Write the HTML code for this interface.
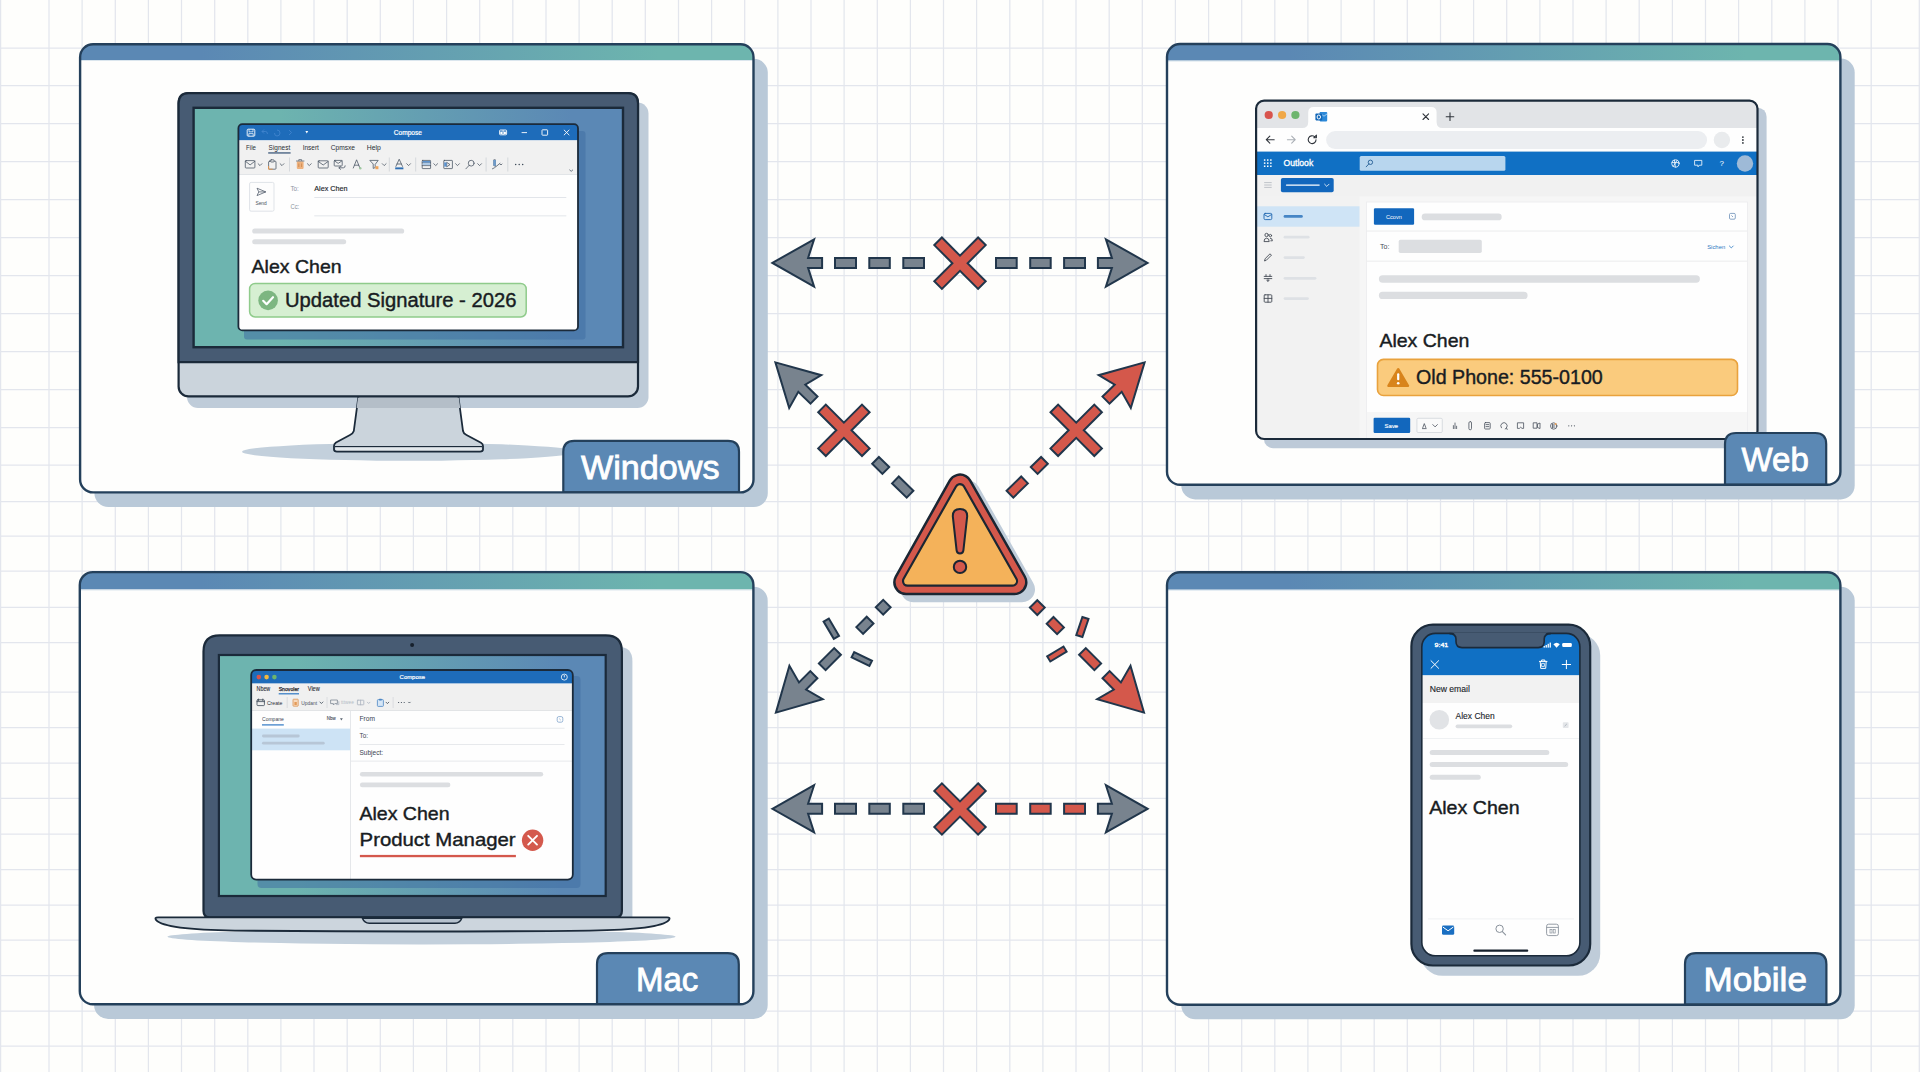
<!DOCTYPE html>
<html lang="en"><head><meta charset="utf-8"><title>Signature sync diagram</title>
<style>
html,body{margin:0;padding:0;background:#fefefc;}
body{width:1920px;height:1072px;overflow:hidden;font-family:"Liberation Sans",sans-serif;}
svg{display:block;}
svg text{font-family:"Liberation Sans",sans-serif;}
</style></head><body>
<svg width="1920" height="1072" viewBox="0 0 1920 1072">
<!-- 10_base.svgfrag -->
<defs>
<linearGradient id="barg" x1="0" y1="0" x2="1" y2="0">
<stop offset="0" stop-color="#5b88b4"/><stop offset="0.18" stop-color="#5b88b4"/>
<stop offset="0.86" stop-color="#6db5ae"/><stop offset="1" stop-color="#6db5ae"/>
</linearGradient>
<linearGradient id="scrg" x1="0" y1="0" x2="1" y2="0">
<stop offset="0" stop-color="#6db4af"/><stop offset="0.2" stop-color="#6db4af"/>
<stop offset="0.88" stop-color="#5b88b5"/><stop offset="1" stop-color="#5b88b5"/>
</linearGradient>
</defs>
<rect x="0" y="0" width="1920" height="1072" fill="#fefefc"/>
<path d="M0.6 0V1072M49.0 0V1072M82.1 0V1072M115.3 0V1072M148.4 0V1072M181.5 0V1072M214.7 0V1072M247.8 0V1072M280.9 0V1072M314.0 0V1072M347.2 0V1072M380.3 0V1072M413.4 0V1072M446.6 0V1072M479.7 0V1072M512.8 0V1072M546.0 0V1072M579.1 0V1072M612.2 0V1072M645.3 0V1072M678.5 0V1072M711.6 0V1072M744.7 0V1072M777.9 0V1072M811.0 0V1072M844.1 0V1072M877.3 0V1072M910.4 0V1072M943.5 0V1072M976.6 0V1072M1009.8 0V1072M1042.9 0V1072M1076.0 0V1072M1109.2 0V1072M1142.3 0V1072M1175.4 0V1072M1208.6 0V1072M1241.7 0V1072M1274.8 0V1072M1307.9 0V1072M1341.1 0V1072M1374.2 0V1072M1407.3 0V1072M1440.5 0V1072M1473.6 0V1072M1506.7 0V1072M1539.9 0V1072M1573.0 0V1072M1606.1 0V1072M1639.2 0V1072M1672.4 0V1072M1705.5 0V1072M1738.6 0V1072M1771.8 0V1072M1804.9 0V1072M1838.0 0V1072M1871.2 0V1072M1919.3 0V1072M0 48.0H1920M0 85.7H1920M0 123.7H1920M0 161.6H1920M0 199.7H1920M0 237.6H1920M0 275.6H1920M0 313.7H1920M0 351.5H1920M0 389.7H1920M0 427.5H1920M0 465.0H1920M0 501.5H1920M0 536.0H1920M0 571.0H1920M0 607.3H1920M0 642.5H1920M0 692.0H1920M0 727.5H1920M0 763.0H1920M0 798.3H1920M0 834.0H1920M0 869.5H1920M0 905.0H1920M0 940.0H1920M0 975.5H1920M0 1011.0H1920M0 1046.0H1920" fill="none" stroke="#e3e6ed" stroke-width="1.25"/>
<rect x="94.4" y="58.8" width="673.4" height="448.2" rx="14" fill="#b9c9d8"/>
<rect x="80.1" y="44.2" width="673.4" height="448.2" rx="13" fill="#fefefd"/>
<clipPath id="cp124"><rect x="80.1" y="44.2" width="673.4" height="448.2" rx="13"/></clipPath>
<g clip-path="url(#cp124)"><rect x="80.1" y="44.2" width="673.4" height="15.8" fill="url(#barg)"/>
<rect x="80.1" y="60.0" width="673.4" height="1" fill="#dbe6ee"/>
</g>
<rect x="1181.3" y="58.6" width="673.4" height="440.8" rx="14" fill="#b9c9d8"/>
<rect x="1167.0" y="44.0" width="673.4" height="440.8" rx="13" fill="#fefefd"/>
<clipPath id="cp1211"><rect x="1167.0" y="44.0" width="673.4" height="440.8" rx="13"/></clipPath>
<g clip-path="url(#cp1211)"><rect x="1167.0" y="44.0" width="673.4" height="16.6" fill="url(#barg)"/>
<rect x="1167.0" y="60.6" width="673.4" height="1" fill="#dbe6ee"/>
</g>
<rect x="94.1" y="586.7" width="673.6" height="432.2" rx="14" fill="#b9c9d8"/>
<rect x="79.8" y="572.1" width="673.6" height="432.2" rx="13" fill="#fefefd"/>
<clipPath id="cp651"><rect x="79.8" y="572.1" width="673.6" height="432.2" rx="13"/></clipPath>
<g clip-path="url(#cp651)"><rect x="79.8" y="572.1" width="673.6" height="17.4" fill="url(#barg)"/>
<rect x="79.8" y="589.5" width="673.6" height="1" fill="#dbe6ee"/>
</g>
<rect x="1181.3" y="586.8" width="673.4" height="432.5" rx="14" fill="#b9c9d8"/>
<rect x="1167.0" y="572.2" width="673.4" height="432.5" rx="13" fill="#fefefd"/>
<clipPath id="cp1739"><rect x="1167.0" y="572.2" width="673.4" height="432.5" rx="13"/></clipPath>
<g clip-path="url(#cp1739)"><rect x="1167.0" y="572.2" width="673.4" height="17.5" fill="url(#barg)"/>
<rect x="1167.0" y="589.7" width="673.4" height="1" fill="#dbe6ee"/>
</g>
<!-- 20_win.svgfrag -->
<ellipse cx="409" cy="451.8" rx="167" ry="9" fill="#c3d0dc"/>
<rect x="187" y="102.5" width="461.5" height="305.5" rx="11" fill="#bfccd9"/>
<path d="M358.5 396L353.8 431Q353 433.5 350 435L336 442.5Q334 444 334 446V449.5Q334 451.5 337 451.5H480Q483 451.5 483 449.5V446Q483 444 481 442.8L466.5 435Q463.5 433.5 463 431L458.3 396Z" fill="#cbd4dc" stroke="#1b2a3a" stroke-width="1.8" stroke-linejoin="round"/>
<path d="M358 397.5H458.8L460.2 408H356.6Z" fill="#b4bec8"/>
<path d="M335 446.6H482" stroke="#1b2a3a" stroke-width="1.2" fill="none"/>
<path d="M335.5 447.4H481.5V449.6Q481.5 450.6 480 450.6H337Q335.5 450.6 335.5 449.6Z" fill="#e3e8ec"/>
<rect x="178.6" y="93.2" width="459.4" height="303.2" rx="10" fill="#cbd4dc" stroke="#1b2a3a" stroke-width="2.2"/>
<path d="M178.6 362.2V103.2Q178.6 93.2 188.6 93.2H628Q638 93.2 638 103.2V362.2Z" fill="#475b73" stroke="#1b2a3a" stroke-width="2.2"/>
<rect x="193.6" y="107.8" width="429.4" height="239.4" fill="url(#scrg)" stroke="#1b2a3a" stroke-width="2.4"/>
<rect x="244" y="131" width="341.5" height="208.5" rx="3" fill="#3f6fa3" opacity="0.55"/>
<clipPath id="wcl"><rect x="238.4" y="124.2" width="339.6" height="206.2" rx="4"/></clipPath>
<g clip-path="url(#wcl)">
<rect x="238" y="124" width="341" height="207" fill="#fefefe"/>
<rect x="238" y="124" width="341" height="16.4" fill="#1e6cba"/>
<rect x="238" y="140.4" width="341" height="33.8" fill="#f1f1f1"/>
<rect x="238" y="174" width="341" height="0.9" fill="#dfe2e6"/>
</g>
<g stroke="#fff" fill="none" stroke-width="0.9"><rect x="247.2" y="129.2" width="7.6" height="7" rx="1"/><path d="M249 129.2v2.6h4v-2.6M248.8 136.2v-2.6h4.4v2.6" stroke-width="0.7"/></g>
<g stroke="#4487cf" fill="none" stroke-width="0.8"><path d="M262 131.5l2-2M262 131.5l2 2M262 131.5h3.5q2 0 2 2.5"/><path d="M277 130q3 0 3 3t-3 3q-2.5 0-2.5-3"/><path d="M289 130l2.500 2.500l-2.500 2.500"/></g>
<path d="M305.4 131l1.400 2.400l1.400-2.400z" fill="#fff"/>
<text x="393.8" y="134.6" font-size="6.6" fill="#fff" textLength="28.2" lengthAdjust="spacingAndGlyphs" stroke="#fff" stroke-width="0.2">Compose</text>
<g stroke="#fff" fill="none" stroke-width="0.9"><rect x="499.6" y="130" width="7" height="4.8" rx="0.8"/><path d="M503.100 130v4.800" /></g>
<rect x="500.300" y="131.600" width="2.100" height="2.400" fill="#fff"/><rect x="503.800" y="131.600" width="2.100" height="2.400" fill="#fff"/>
<g stroke="#fff" fill="none" stroke-width="0.9"><path d="M521.6 132.6h5.400"/><rect x="542" y="129.800" width="5.600" height="5.400" rx="0.600"/><path d="M563.900 129.800l5.400 5.400M569.300 129.800l-5.400 5.400"/></g>
<text x="246.1" y="150.1" font-size="6.8" fill="#2b2f36" textLength="9.8" lengthAdjust="spacingAndGlyphs" >File</text>
<text x="268.6" y="150.1" font-size="6.8" fill="#2b2f36" textLength="21.6" lengthAdjust="spacingAndGlyphs" >Signest</text>
<rect x="268.2" y="152.4" width="22.400" height="1.1" fill="#1e3f66"/>
<text x="302.7" y="150.1" font-size="6.8" fill="#2b2f36" textLength="16.2" lengthAdjust="spacingAndGlyphs" >Insert</text>
<text x="330.7" y="150.1" font-size="6.8" fill="#2b2f36" textLength="24.3" lengthAdjust="spacingAndGlyphs" >Cpmsxe</text>
<text x="366.7" y="150.1" font-size="6.8" fill="#2b2f36" textLength="14.1" lengthAdjust="spacingAndGlyphs" >Help</text>
<g fill="none" stroke="#4a5563" stroke-width="0.78" stroke-linejoin="round" stroke-linecap="round"><rect x="245.3" y="160.6" width="9.6" height="7.4" rx="0.8"/><path d="M245.3 161.2l4.8 3.7l4.8 -3.7"/></g>
<path d="M258.1 163.7l1.9 1.9l1.9 -1.9" fill="none" stroke="#4a5563" stroke-width="0.78" stroke-linejoin="round" stroke-linecap="round"/>
<g fill="none" stroke="#4a5563" stroke-width="0.78" stroke-linejoin="round" stroke-linecap="round"><rect x="268.600" y="161.200" width="7.400" height="8" rx="0.800"/><rect x="270.600" y="159.800" width="3.400" height="2.200" rx="0.600" fill="#f1f1f1"/></g>
<path d="M268.600 166v3.200h4" fill="none" stroke="#e0954f" stroke-width="1"/>
<path d="M280.1 163.7l1.9 1.9l1.9 -1.9" fill="none" stroke="#4a5563" stroke-width="0.78" stroke-linejoin="round" stroke-linecap="round"/>
<path d="M289.500 157.500v14" stroke="#d3d6da" stroke-width="0.900"/>
<rect x="296.800" y="161.300" width="6.800" height="7.600" rx="0.800" fill="#eeb27e"/><path d="M296 161h8.400M298.800 161v-1.400h2.800v1.400" fill="none" stroke="#6f7885" stroke-width="0.900"/><path d="M298.800 163.500v3.500M301.600 163.500v3.500" stroke="#c9844a" stroke-width="0.800"/>
<path d="M307.4 163.7l1.9 1.9l1.9 -1.9" fill="none" stroke="#4a5563" stroke-width="0.78" stroke-linejoin="round" stroke-linecap="round"/>
<g fill="none" stroke="#4a5563" stroke-width="0.78" stroke-linejoin="round" stroke-linecap="round"><rect x="318.2" y="160.8" width="10.0" height="7.2" rx="0.8"/><path d="M318.2 161.4l5.0 3.6l5.0 -3.6"/></g>
<g fill="none" stroke="#4a5563" stroke-width="0.78" stroke-linejoin="round" stroke-linecap="round"><rect x="334.200" y="160.400" width="8" height="5.600" rx="0.700"/><path d="M334.400 160.800l3.800 2.600l3.800-2.600M339 167.800h4.400q1.800 0 1.800-2M340.600 166.200l-1.700 1.600l1.700 1.600"/></g>
<g fill="none" stroke="#4a5563" stroke-width="0.78" stroke-linejoin="round" stroke-linecap="round"><path d="M353.300 168l3.300-8.200l3.300 8.200M354.500 165.200h4.200"/></g>
<circle cx="360.300" cy="168.200" r="1.200" fill="#9ec7a0"/>
<g fill="none" stroke="#4a5563" stroke-width="0.78" stroke-linejoin="round" stroke-linecap="round"><path d="M370.200 160.400h8l-3 4v3.200l-2 .8v-4z"/></g>
<rect x="375.400" y="166.200" width="3" height="3" fill="#f0a45a"/>
<path d="M382.3 163.7l1.9 1.9l1.9 -1.9" fill="none" stroke="#4a5563" stroke-width="0.78" stroke-linejoin="round" stroke-linecap="round"/>
<path d="M389.300 157.500v14" stroke="#d3d6da" stroke-width="0.900"/>
<g fill="none" stroke="#4a5563" stroke-width="0.78" stroke-linejoin="round" stroke-linecap="round"><path d="M395.900 166.400l3.300-7.200l3.300 7.200M397 164h4.400"/></g>
<rect x="395.200" y="167.400" width="8.200" height="1.900" fill="#2f6fb3"/>
<path d="M406.7 163.7l1.9 1.9l1.9 -1.9" fill="none" stroke="#4a5563" stroke-width="0.78" stroke-linejoin="round" stroke-linecap="round"/>
<path d="M415.700 157.500v14" stroke="#d3d6da" stroke-width="0.900"/>
<g fill="none" stroke="#4a5563" stroke-width="0.78" stroke-linejoin="round" stroke-linecap="round"><rect x="422.200" y="160.400" width="8.400" height="8.200" rx="0.500"/><path d="M422.200 162.800h8.400M422.200 165.600h8.400"/></g>
<rect x="422.600" y="161" width="7.600" height="1.600" fill="#5b93cf"/><rect x="422.600" y="163.300" width="7.600" height="1.800" fill="#a9c8e8"/>
<path d="M433.8 163.7l1.9 1.9l1.9 -1.9" fill="none" stroke="#4a5563" stroke-width="0.78" stroke-linejoin="round" stroke-linecap="round"/>
<g fill="none" stroke="#4a5563" stroke-width="0.78" stroke-linejoin="round" stroke-linecap="round"><rect x="443.800" y="160.400" width="8.600" height="8.200" rx="0.500"/><path d="M447 162.600l3 2l-3 2z"/></g>
<rect x="444.200" y="162.400" width="2.400" height="4.200" fill="#5b93cf"/>
<path d="M455.6 163.7l1.9 1.9l1.9 -1.9" fill="none" stroke="#4a5563" stroke-width="0.78" stroke-linejoin="round" stroke-linecap="round"/>
<g fill="none" stroke="#4a5563" stroke-width="0.78" stroke-linejoin="round" stroke-linecap="round"><circle cx="471.200" cy="163.200" r="2.900"/><path d="M469.100 165.400l-3.200 3.400"/></g>
<path d="M477.7 163.7l1.9 1.9l1.9 -1.9" fill="none" stroke="#4a5563" stroke-width="0.78" stroke-linejoin="round" stroke-linecap="round"/>
<path d="M486.100 157.500v14" stroke="#d3d6da" stroke-width="0.900"/>
<g fill="none" stroke="#4a5563" stroke-width="0.78" stroke-linejoin="round" stroke-linecap="round"><path d="M492.400 168.800l2-1l5.600-4.400M493.800 160.200v5.400l1.600.6v-6z"/></g>
<rect x="493.400" y="160" width="2.400" height="5.800" fill="#6d9ccd"/>
<path d="M500 164l1 1l1-1" fill="none" stroke="#4a5563" stroke-width="0.78" stroke-linejoin="round" stroke-linecap="round" stroke-width="0.700"/>
<path d="M507.800 157.500v14" stroke="#d3d6da" stroke-width="0.900"/>
<g fill="#3b4756"><circle cx="515.700" cy="164.600" r="0.750"/><circle cx="519.200" cy="164.600" r="0.750"/><circle cx="522.700" cy="164.600" r="0.750"/></g>
<path d="M569.700 170l1.500 1.300l1.500-1.300" fill="none" stroke="#4a5563" stroke-width="0.78" stroke-linejoin="round" stroke-linecap="round" stroke-width="0.800"/>
<rect x="249.600" y="182.400" width="24.400" height="28.800" rx="1.500" fill="#fdfdfd" stroke="#dfe3e8" stroke-width="1"/>
<path d="M257 188.200l8.800 3.700l-8.800 3.700l1.800-3.700zM258.800 191.900h7" fill="none" stroke="#56606e" stroke-width="0.800" stroke-linejoin="round"/>
<text x="255.4" y="205.4" font-size="5.2" fill="#4a5360" textLength="11.4" lengthAdjust="spacingAndGlyphs" >Send</text>
<text x="290.4" y="190.8" font-size="6.6" fill="#8b939e" textLength="8.4" lengthAdjust="spacingAndGlyphs" >To:</text>
<text x="314.3" y="190.8" font-size="7.2" fill="#22262c" textLength="33.2" lengthAdjust="spacingAndGlyphs" stroke="#22262c" stroke-width="0.15" >Alex Chen</text>
<rect x="314.300" y="197.100" width="252" height="0.900" fill="#dfe3e8"/>
<text x="290.4" y="208.6" font-size="6.6" fill="#8b939e" textLength="8.8" lengthAdjust="spacingAndGlyphs" >Cc:</text>
<rect x="314.300" y="215.400" width="252" height="0.900" fill="#dfe3e8"/>
<rect x="252.200" y="228.400" width="152" height="5.200" rx="2.600" fill="#dcdee1"/>
<rect x="252.200" y="239.200" width="94" height="5" rx="2.500" fill="#dcdee1"/>
<text x="251.6" y="272.5" font-size="18.4" fill="#181c22" textLength="90.0" lengthAdjust="spacingAndGlyphs" stroke="#181c22" stroke-width="0.40" >Alex Chen</text>
<rect x="249.600" y="283.400" width="276.600" height="33.600" rx="5.500" fill="#d6efd2" stroke="#8fcb8b" stroke-width="1.500"/>
<circle cx="268.100" cy="300.400" r="9.800" fill="#7db681"/>
<path d="M263.200 300.800l3.400 3.400l6.400-7" fill="none" stroke="#fff" stroke-width="2.200" stroke-linecap="round" stroke-linejoin="round"/>
<text x="285.0" y="307.2" font-size="19.6" fill="#181c22" textLength="231.4" lengthAdjust="spacingAndGlyphs" stroke="#181c22" stroke-width="0.40" >Updated Signature - 2026</text>
<rect x="238.400" y="124.200" width="339.600" height="206.200" rx="4" fill="none" stroke="#1b2a3a" stroke-width="1.800"/>
<!-- 30_web.svgfrag -->
<rect x="1264" y="107.700" width="502.600" height="340.500" rx="9" fill="#bdcad8"/>
<clipPath id="bcl"><rect x="1256.1" y="100.6" width="501.4" height="338.4" rx="8"/></clipPath>
<g clip-path="url(#bcl)">
<rect x="1255" y="99" width="504" height="342" fill="#f6f6f6"/>
<rect x="1255" y="99" width="504" height="29" fill="#e2e4e7"/>
<path d="M1302.200 128Q1308.200 128 1308.200 122V112.500Q1308.200 107 1313.700 107H1431.100Q1436.600 107 1436.600 112.500V122Q1436.600 128 1442.600 128Z" fill="#fefefe"/>
<rect x="1255" y="128" width="504" height="23.600" fill="#fefefe"/>
<circle cx="1268.700" cy="115" r="4.100" fill="#d8544d"/><circle cx="1282.100" cy="115" r="4.100" fill="#f0a848"/><circle cx="1295.400" cy="115" r="4.100" fill="#6db56e"/>
<rect x="1319.600" y="112" width="7.600" height="9.400" rx="0.800" fill="#2b88d8"/><path d="M1320.800 113.800l3.200 2.400l3.200-2.400" fill="none" stroke="#bcdcf5" stroke-width="0.800"/><rect x="1315.400" y="113.600" width="6.800" height="6.800" rx="0.800" fill="#1267b8"/><ellipse cx="1318.800" cy="117" rx="1.700" ry="2" fill="none" stroke="#fff" stroke-width="1"/>
<path d="M1423 113.900l5.600 5.600M1428.600 113.900l-5.600 5.600" fill="none" stroke="#30353c" stroke-width="1.100" stroke-linecap="round" stroke-linejoin="round"/>
<path d="M1446.200 116.700h7.600M1450 112.900v7.600" fill="none" stroke="#30353c" stroke-width="1.100" stroke-linecap="round" stroke-linejoin="round"/>
<path d="M1274.200 139.700h-7.800M1269.800 136.200l-3.500 3.500l3.500 3.500" fill="none" stroke="#30353c" stroke-width="1.100" stroke-linecap="round" stroke-linejoin="round"/>
<path d="M1287.400 139.700h7.800M1291.700 136.200l3.500 3.500l-3.500 3.500" fill="none" stroke="#a9aeb5" stroke-width="1.100" stroke-linecap="round" stroke-linejoin="round"/>
<path d="M1316 139.700a3.900 3.900 0 1 1-1.400-3M1316.400 135.200v2.600h-2.600z" fill="none" stroke="#30353c" stroke-width="1.100" stroke-linecap="round" stroke-linejoin="round"/>
<rect x="1326.100" y="131" width="381" height="18" rx="9" fill="#eceef1"/>
<circle cx="1721.900" cy="140" r="8.200" fill="#e9ebed"/>
<g fill="#30353c"><circle cx="1742.900" cy="137.100" r="0.900"/><circle cx="1742.900" cy="140" r="0.900"/><circle cx="1742.900" cy="142.900" r="0.900"/></g>
<rect x="1255" y="151.600" width="504" height="23.400" fill="#1070c4"/>
<g fill="#fff"><rect x="1263.9" y="159.3" width="1.500" height="1.500"/><rect x="1263.9" y="162.4" width="1.500" height="1.500"/><rect x="1263.9" y="165.5" width="1.500" height="1.500"/><rect x="1267.0" y="159.3" width="1.500" height="1.500"/><rect x="1267.0" y="162.4" width="1.500" height="1.500"/><rect x="1267.0" y="165.5" width="1.500" height="1.500"/><rect x="1270.1" y="159.3" width="1.500" height="1.500"/><rect x="1270.1" y="162.4" width="1.500" height="1.500"/><rect x="1270.1" y="165.5" width="1.500" height="1.500"/></g>
<text x="1283.6" y="166.1" font-size="8.4" fill="#fff" textLength="29.6" lengthAdjust="spacingAndGlyphs" stroke="#fff" stroke-width="0.30" >Outlook</text>
<rect x="1359.700" y="156" width="145.700" height="14.800" rx="1.500" fill="#b8d6ee"/>
<circle cx="1370.400" cy="162.300" r="2.200" fill="none" stroke="#245d94" stroke-width="0.900"/><path d="M1368.800 164l-2.600 2.800" stroke="#245d94" stroke-width="0.900" stroke-linecap="round"/>
<g fill="none" stroke="#fff" stroke-width="0.800" stroke-linecap="round" stroke-linejoin="round"><circle cx="1675.400" cy="163.500" r="3.700"/><path d="M1672 162.600h6.800M1674.400 160l1 7M1677 160.500l-3.500 5.500"/></g>
<g fill="none" stroke="#fff" stroke-width="0.800" stroke-linecap="round" stroke-linejoin="round"><path d="M1695 160.400h6.800v4.800h-2.400l-1.400 1.600v-1.600h-3z"/></g>
<text x="1719.6" y="166.4" font-size="8.0" fill="#fff" >?</text>
<circle cx="1745" cy="163.500" r="8.200" fill="#9ebad7"/>
<rect x="1255" y="175" width="504" height="21.200" fill="#f1f1f1"/>
<path d="M1264.200 182.600h7.500M1264.200 185h7.500M1264.200 187.400h7.500" stroke="#b3b8bf" stroke-width="0.800"/>
<rect x="1280.900" y="178" width="52.800" height="14.200" rx="1.800" fill="#1267bd"/>
<rect x="1285.800" y="184.400" width="34" height="1.400" rx="0.700" fill="#fff"/>
<path d="M1324.600 184.200l2.200 2.200l2.200-2.200" fill="none" stroke="#fff" stroke-width="0.800" stroke-linecap="round" stroke-linejoin="round"/>
<rect x="1255" y="196.200" width="104.500" height="245" fill="#f2f2f2"/>
<rect x="1255" y="206.300" width="104.500" height="20.400" fill="#cfe4f6"/>
<g fill="none" stroke="#1f66b0" stroke-width="0.900" stroke-linejoin="round" stroke-linecap="round"><rect x="1264" y="213.400" width="7.800" height="6.200" rx="1.200"/><path d="M1264.400 214.600l3.500 2.200l3.500-2.200"/></g>
<rect x="1283.600" y="215.100" width="19.200" height="2.600" rx="1.300" fill="#4685c5"/>
<g fill="none" stroke="#464d57" stroke-width="0.900" stroke-linejoin="round" stroke-linecap="round"><circle cx="1266.600" cy="235" r="1.700"/><path d="M1264 241.200q0-3 2.600-3t2.600 3z"/><circle cx="1270.400" cy="235.600" r="1.200"/><path d="M1270.400 238.200q2 0 2 2.600h-1.600"/></g>
<g fill="none" stroke="#464d57" stroke-width="0.900" stroke-linejoin="round" stroke-linecap="round"><path d="M1264.600 260.600l.6-2l4.800-4.800l1.400 1.400l-4.800 4.800z"/></g>
<g fill="none" stroke="#464d57" stroke-width="0.900" stroke-linejoin="round" stroke-linecap="round"><path d="M1264.200 276.400h7.600M1264.200 278.600h7.600M1266 274.600v2M1270 274.600v2M1268 278.600v2.600l-1.200-.8M1268 281.200l1.200-.8"/></g>
<g fill="none" stroke="#464d57" stroke-width="0.900" stroke-linejoin="round" stroke-linecap="round"><rect x="1264.200" y="294.800" width="7.600" height="7.400" rx="0.800"/><path d="M1264.200 298.400h7.600M1268 294.800v7.400"/></g>
<rect x="1283.600" y="235.8" width="26.0" height="2.800" rx="1.400" fill="#dee1e5"/>
<rect x="1283.600" y="256.2" width="21.2" height="2.800" rx="1.400" fill="#dee1e5"/>
<rect x="1283.600" y="276.9" width="32.8" height="2.800" rx="1.400" fill="#dee1e5"/>
<rect x="1283.600" y="297.2" width="25.3" height="2.800" rx="1.400" fill="#dee1e5"/>
<rect x="1366.400" y="202" width="381" height="240" fill="#fefefe" stroke="#ebecee" stroke-width="0.800"/>
<rect x="1366.800" y="412" width="380.200" height="30" fill="#f6f6f6"/>
<rect x="1373.900" y="208.200" width="40.200" height="16.600" rx="1.200" fill="#1267bd"/>
<text x="1386.0" y="218.6" font-size="6.0" fill="#fff" textLength="15.8" lengthAdjust="spacingAndGlyphs" >Ccovn</text>
<rect x="1421.700" y="213.500" width="80" height="6.800" rx="3.400" fill="#dcdee1"/>
<g fill="none" stroke="#6c8fb8" stroke-width="0.800"><rect x="1729.500" y="213.400" width="5.800" height="5.800" rx="1.200"/><path d="M1731.400 215.400l1.600 1.600"/></g>
<rect x="1366.800" y="230.600" width="380.200" height="0.900" fill="#e9eaec"/>
<text x="1380.0" y="248.9" font-size="7.8" fill="#454b54" textLength="9.4" lengthAdjust="spacingAndGlyphs" >To:</text>
<rect x="1398.700" y="239.700" width="83.100" height="13.300" rx="1.800" fill="#dcdee1"/>
<text x="1707.2" y="248.6" font-size="5.6" fill="#2b78c2" textLength="18.0" lengthAdjust="spacingAndGlyphs" >Sichen</text>
<path d="M1729.400 246l1.900 1.900l1.900-1.900" fill="none" stroke="#2b78c2" stroke-width="0.800" stroke-linecap="round"/>
<rect x="1366.800" y="260.700" width="380.200" height="0.900" fill="#e9eaec"/>
<rect x="1378.900" y="275.300" width="321" height="7.400" rx="3.700" fill="#dcdee1"/>
<rect x="1378.900" y="291.800" width="148.700" height="7.200" rx="3.600" fill="#dcdee1"/>
<text x="1379.4" y="347.0" font-size="18.6" fill="#181c22" textLength="90.0" lengthAdjust="spacingAndGlyphs" stroke="#181c22" stroke-width="0.40" >Alex Chen</text>
<rect x="1377.500" y="359.400" width="360" height="36.100" rx="6" fill="#facb7d" stroke="#e9a23d" stroke-width="1.600"/>
<path d="M1398.200 369.200L1388.400 385.800H1408Z" fill="#d8841c" stroke="#d8841c" stroke-width="2.400" stroke-linejoin="round"/>
<rect x="1397.100" y="373.200" width="2.200" height="7" rx="1" fill="#fff"/><circle cx="1398.200" cy="383.200" r="1.300" fill="#fff"/>
<text x="1416.0" y="384.2" font-size="20.0" fill="#181c22" textLength="186.8" lengthAdjust="spacingAndGlyphs" stroke="#181c22" stroke-width="0.40" >Old Phone: 555-0100</text>
<rect x="1373.600" y="417.800" width="36.600" height="15.200" rx="1.200" fill="#1267bd"/>
<text x="1384.6" y="427.8" font-size="5.8" fill="#fff" textLength="13.6" lengthAdjust="spacingAndGlyphs" stroke="#fff" stroke-width="0.15" >Save</text>
<rect x="1416.900" y="418.300" width="25.400" height="14.200" rx="1.200" fill="#fafafa" stroke="#d2d6db" stroke-width="0.800"/>
<g fill="none" stroke="#4a525d" stroke-width="0.800" stroke-linejoin="round" stroke-linecap="round"><path d="M1422.800 427.600l1.500-4l1.500 4M1422.400 428.600h3.800M1432.800 424.600l2.300 2.300l2.300-2.300"/></g>
<g fill="none" stroke="#4a525d" stroke-width="0.800" stroke-linejoin="round" stroke-linecap="round"><path d="M1453.400 428.600v-3M1455 428.600v-5.600M1456.600 428.600v-2.400"/>
<rect x="1468.900" y="421.600" width="2.600" height="8.200" rx="1.300"/>
<rect x="1484.600" y="422.600" width="5.600" height="6.400" rx="0.800"/><path d="M1486 424.600h2.800M1486 426.600h2.800"/>
<path d="M1501.400 427.800a3.200 3.200 0 1 1 5 .2M1505.200 428.900l1.400-.8l.6 1.400"/>
<path d="M1517.800 422.800h5.800v5.600h-1.600l-1.300-1.200l-1.300 1.200h-1.600z"/>
<path d="M1533.600 422.800h3.400v5.400h-3.400zM1537.800 424l2.200-1v5.600l-2.200-1z"/>
<circle cx="1553.700" cy="426" r="3.200"/><path d="M1552.600 425h2.200M1552.600 427h2.200M1552.600 424v4"/></g>
<circle cx="1555.600" cy="424" r="1" fill="#f0a45a"/>
<g fill="#4a525d"><circle cx="1568.800" cy="425.800" r="0.600"/><circle cx="1571.600" cy="425.800" r="0.600"/><circle cx="1574.400" cy="425.800" r="0.600"/></g>
</g>
<rect x="1256.1" y="100.6" width="501.4" height="338.4" rx="8" fill="none" stroke="#1b2a3a" stroke-width="2.200"/>
<!-- 40_mac.svgfrag -->
<ellipse cx="421.500" cy="936.800" rx="254" ry="7.600" fill="#c3d0dc"/>
<path d="M612 646.700H618Q632.400 646.700 632.400 661V917H612Z" fill="#bfccd9"/>
<path d="M203.500 911V651.400Q203.500 635.300 219.600 635.300H605.800Q621.900 635.300 621.900 651.400V911Q621.900 917.400 615.500 917.400H209.900Q203.500 917.400 203.500 911Z" fill="#475b73" stroke="#1b2a3a" stroke-width="2.200" stroke-linejoin="round"/>
<circle cx="412.100" cy="645" r="2" fill="#16202c"/>
<rect x="218.900" y="655" width="386.800" height="241" fill="url(#scrg)" stroke="#1b2a3a" stroke-width="2.200"/>
<rect x="257.500" y="676" width="323" height="212" rx="4" fill="#3f6fa3" opacity="0.55"/>
<clipPath id="mcl"><rect x="251.2" y="670.0" width="321.6" height="209.6" rx="5"/></clipPath>
<g clip-path="url(#mcl)">
<rect x="250" y="669" width="325" height="212" fill="#fefefe"/>
<rect x="250" y="669" width="325" height="14.600" fill="#1e6cba"/>
<rect x="250" y="683.600" width="325" height="26.600" fill="#f0f0f0"/>
<rect x="250" y="710" width="325" height="0.900" fill="#dfe1e4"/>
<rect x="252" y="728.600" width="98.400" height="21.700" fill="#cde3f5"/>
<rect x="350" y="711" width="0.900" height="170" fill="#e3e5e8"/>
</g>
<circle cx="258.800" cy="677.100" r="2.300" fill="#d8544d"/><circle cx="266.600" cy="677.100" r="2.300" fill="#f0b840"/><circle cx="274.400" cy="677.100" r="2.300" fill="#6db56e"/>
<text x="399.6" y="679.0" font-size="6.2" fill="#fff" textLength="25.4" lengthAdjust="spacingAndGlyphs" stroke="#fff" stroke-width="0.20" >Compose</text>
<circle cx="564.300" cy="677.100" r="3" fill="none" stroke="#fff" stroke-width="0.800"/><path d="M564.300 675v2.400" stroke="#fff" stroke-width="0.800"/>
<text x="256.6" y="691.1" font-size="6.4" fill="#2b2f36" textLength="13.6" lengthAdjust="spacingAndGlyphs" stroke="#2b2f36" stroke-width="0.12" >Nbew</text>
<text x="278.7" y="691.1" font-size="5.8" fill="#1e2228" textLength="20.3" lengthAdjust="spacingAndGlyphs" stroke="#1e2228" stroke-width="0.25" >Snovoler</text>
<rect x="278.700" y="693.200" width="20.300" height="1.200" fill="#2f78c4"/>
<text x="307.8" y="691.1" font-size="6.4" fill="#2b2f36" textLength="11.9" lengthAdjust="spacingAndGlyphs" stroke="#2b2f36" stroke-width="0.12" >View</text>
<g fill="none" stroke="#3b4756" stroke-width="0.800" stroke-linejoin="round" stroke-linecap="round"><rect x="257" y="699.800" width="7.400" height="5.800" rx="0.800"/><path d="M257 701.600h7.400M258.600 699v1.600M262.800 699v1.600"/></g>
<text x="266.9" y="704.6" font-size="6.0" fill="#2b2f36" textLength="15.4" lengthAdjust="spacingAndGlyphs" >Create</text>
<path d="M287.200 697v11" stroke="#d5d8dc" stroke-width="0.800"/>
<rect x="293" y="699.200" width="5.200" height="7" rx="0.600" fill="#f6d9bd" stroke="#d98a45" stroke-width="0.700"/><rect x="294.400" y="702" width="2.400" height="3" fill="#e39a58"/>
<text x="301.3" y="704.6" font-size="5.6" fill="#4a525d" textLength="15.7" lengthAdjust="spacingAndGlyphs" >Updant</text>
<path d="M319.900 702l1.500 1.500l1.500-1.500" fill="none" stroke="#3b4756" stroke-width="0.800" stroke-linejoin="round" stroke-linecap="round"/>
<path d="M327 697v11" stroke="#d5d8dc" stroke-width="0.800"/>
<g fill="none" stroke="#a9b3bf" stroke-width="0.800" stroke-linejoin="round" stroke-linecap="round"><path d="M331 700h6.400v3.600h-2.600l-1.400 1.400v-1.400h-2.400z" stroke="#7d8894"/><path d="M336.400 704.600h2.400v-3"/></g>
<text x="341.0" y="704.4" font-size="5.2" fill="#b4bcc6" textLength="12.8" lengthAdjust="spacingAndGlyphs" >tttwee</text>
<g fill="none" stroke="#a9b3bf" stroke-width="0.800" stroke-linejoin="round" stroke-linecap="round"><rect x="357.400" y="700.200" width="6.400" height="4.600" rx="0.500"/><path d="M360.600 700.200v4.600"/><path d="M367.400 702.200l1.300 1.300l1.300-1.300"/></g>
<rect x="377.400" y="699.600" width="6" height="6.800" rx="0.800" fill="#d6e6f6" stroke="#4d86c4" stroke-width="0.800"/><rect x="379" y="698.800" width="2.800" height="1.600" rx="0.400" fill="#4d86c4"/>
<path d="M386 702.200l1.400 1.400l1.400-1.400" fill="none" stroke="#3b4756" stroke-width="0.800" stroke-linejoin="round" stroke-linecap="round"/>
<path d="M393.100 697v11" stroke="#d5d8dc" stroke-width="0.800"/>
<g fill="#3b4756"><circle cx="398.600" cy="702.500" r="0.600"/><circle cx="401.400" cy="702.500" r="0.600"/><circle cx="404.200" cy="702.500" r="0.600"/></g>
<path d="M408.600 702.200l.8.800l.8-.8" fill="none" stroke="#3b4756" stroke-width="0.800" stroke-linejoin="round" stroke-linecap="round" stroke-width="0.600"/>
<text x="262.0" y="720.5" font-size="5.8" fill="#3a4350" textLength="21.8" lengthAdjust="spacingAndGlyphs" >Compane</text>
<rect x="262" y="724.300" width="21.800" height="1.200" fill="#2f78c4"/>
<text x="326.8" y="720.3" font-size="5.0" fill="#3a4350" textLength="8.8" lengthAdjust="spacingAndGlyphs" stroke="#3a4350" stroke-width="0.10" >Nbw</text>
<path d="M340 718.200h2.800l-1.400 2.200z" fill="#5a6470"/>
<rect x="262" y="734.600" width="37.700" height="2.800" rx="1.400" fill="#b7c6d6"/><rect x="262" y="741.800" width="62.700" height="2.800" rx="1.400" fill="#b7c6d6"/>
<text x="359.5" y="721.4" font-size="6.6" fill="#3a4350" textLength="15.4" lengthAdjust="spacingAndGlyphs" >From</text>
<rect x="359.500" y="727.800" width="205" height="0.800" fill="#e1e4e8"/>
<rect x="557.200" y="716.600" width="5.600" height="5.600" rx="1.600" fill="none" stroke="#7fa3cc" stroke-width="0.800"/><path d="M559.200 718.600l1.600 1.600" stroke="#7fa3cc" stroke-width="0.700"/>
<text x="359.5" y="738.1" font-size="6.6" fill="#3a4350" textLength="8.4" lengthAdjust="spacingAndGlyphs" >To:</text>
<rect x="359.500" y="744" width="205" height="0.800" fill="#e1e4e8"/>
<text x="359.5" y="754.7" font-size="6.6" fill="#3a4350" textLength="23.6" lengthAdjust="spacingAndGlyphs" >Subject:</text>
<rect x="351" y="760.700" width="221" height="0.800" fill="#e1e4e8"/>
<rect x="359.900" y="772" width="183.300" height="4.600" rx="2.300" fill="#dcdee1"/>
<rect x="359.900" y="782.600" width="90.500" height="4.600" rx="2.300" fill="#dcdee1"/>
<text x="359.4" y="820.4" font-size="18.6" fill="#181c22" textLength="90.2" lengthAdjust="spacingAndGlyphs" stroke="#181c22" stroke-width="0.40" >Alex Chen</text>
<text x="359.6" y="846.4" font-size="18.6" fill="#181c22" textLength="156.0" lengthAdjust="spacingAndGlyphs" stroke="#181c22" stroke-width="0.40" >Product Manager</text>
<rect x="359.900" y="854.900" width="156" height="2.300" fill="#d4584c"/>
<circle cx="532.600" cy="840.200" r="10.700" fill="#d4594d"/>
<path d="M528.200 835.800l8.800 8.800M537 835.800l-8.800 8.800" stroke="#fff" stroke-width="1.900" stroke-linecap="round"/>
<rect x="251.2" y="670.0" width="321.6" height="209.6" rx="5" fill="none" stroke="#1b2a3a" stroke-width="1.800"/>
<path d="M158 917.400H667Q670.800 917.400 668.800 920.200Q660 929.800 590 930.600Q420 932.400 235 930.600Q165 929.800 156.200 920.200Q154.200 917.400 158 917.400Z" fill="#ccd5dd" stroke="#1b2a3a" stroke-width="1.900" stroke-linejoin="round"/>
<path d="M362.400 918.300H461.800Q459.800 923.200 455 923.200H369.200Q364.400 923.200 362.400 918.300Z" fill="#b5c1cd" stroke="#1b2a3a" stroke-width="1.500" stroke-linejoin="round"/>
<!-- 50_mobile.svgfrag -->
<rect x="1420.500" y="633.500" width="179.700" height="342.300" rx="22" fill="#bfccd9"/>
<rect x="1411.400" y="624.700" width="178.800" height="340.800" rx="21.500" fill="#475b73" stroke="#1b2a3a" stroke-width="2.200"/>
<clipPath id="pcl"><rect x="1421.8" y="633.4" width="158.1" height="322.4" rx="13.500"/></clipPath>
<g clip-path="url(#pcl)">
<rect x="1420" y="632" width="162" height="326" fill="#fefefe"/>
<rect x="1420" y="632" width="162" height="43.400" fill="#1070c4"/>
<rect x="1420" y="675.400" width="162" height="27.600" fill="#f2f2f2"/>
</g>
<rect x="1421.8" y="633.4" width="158.1" height="322.4" rx="13.500" fill="none" stroke="#1b2a3a" stroke-width="1.600"/>
<path d="M1452 632.600H1548Q1544.200 633.400 1544.200 638V641.600Q1544.200 647.600 1538.200 647.600H1462Q1456 647.600 1456 641.600V638Q1456 633.400 1452 632.600Z" fill="#475b73"/>
<path d="M1449.500 633.600Q1456 633.800 1456 639V641.600Q1456 647.600 1462 647.600H1538.200Q1544.200 647.600 1544.200 641.600V639Q1544.200 633.800 1550.700 633.600" fill="none" stroke="#1b2a3a" stroke-width="1.600"/>
<text x="1434.5" y="647.3" font-size="6.2" fill="#fff" textLength="13.8" lengthAdjust="spacingAndGlyphs" stroke="#fff" stroke-width="0.35" >9:41</text>
<g fill="#fff"><rect x="1543.600" y="646" width="1.300" height="1.600"/><rect x="1545.600" y="645" width="1.300" height="2.600"/><rect x="1547.600" y="643.800" width="1.300" height="3.800"/><rect x="1549.600" y="642.600" width="1.300" height="5"/>
<path d="M1553.400 644.200q3.200-3 6.400 0l-3.200 3.600z"/><rect x="1562.200" y="643" width="9.600" height="4" rx="1.200"/></g>
<path d="M1431 660.700l7.600 7.600M1438.600 660.700l-7.600 7.600" fill="none" stroke="#fff" stroke-width="1" stroke-linecap="round" stroke-linejoin="round"/>
<g fill="none" stroke="#fff" stroke-width="1" stroke-linecap="round" stroke-linejoin="round"><path d="M1539.400 661.400h7.600M1541.600 661.400v-1.400h3.200v1.400M1540.200 661.400l.5 7h5l.5-7"/><rect x="1542" y="663.400" width="2.400" height="3" stroke-width="0.800"/></g>
<path d="M1562.200 664.500h8.400M1566.400 660.300v8.400" fill="none" stroke="#fff" stroke-width="1" stroke-linecap="round" stroke-linejoin="round"/>
<text x="1429.7" y="691.8" font-size="8.2" fill="#20242a" textLength="40.2" lengthAdjust="spacingAndGlyphs" stroke="#20242a" stroke-width="0.12" >New email</text>
<circle cx="1439.300" cy="719.700" r="9.800" fill="#e1e3e6"/>
<text x="1455.6" y="718.5" font-size="8.3" fill="#20242a" textLength="39.0" lengthAdjust="spacingAndGlyphs" stroke="#20242a" stroke-width="0.12" >Alex Chen</text>
<rect x="1455.600" y="724.400" width="56.600" height="3.800" rx="1.900" fill="#dcdee1"/>
<rect x="1562.800" y="722.200" width="5.800" height="5.800" rx="0.800" fill="#e4e6e9"/><path d="M1564.600 726.200l2.200-2.200" stroke="#9aa3ad" stroke-width="0.700"/>
<rect x="1423" y="738" width="156" height="0.800" fill="#eceef0"/>
<rect x="1429.700" y="750" width="119.600" height="5" rx="2.500" fill="#dcdee1"/>
<rect x="1429.700" y="762.100" width="138.500" height="5" rx="2.500" fill="#dcdee1"/>
<rect x="1429.700" y="774.700" width="51.100" height="5" rx="2.500" fill="#dcdee1"/>
<text x="1429.2" y="813.6" font-size="18.8" fill="#181c22" textLength="90.4" lengthAdjust="spacingAndGlyphs" stroke="#181c22" stroke-width="0.40" >Alex Chen</text>
<rect x="1428" y="918.500" width="146" height="0.800" fill="#eceef0"/>
<rect x="1442" y="925.600" width="12.200" height="9.200" rx="1.400" fill="#1a6fc2"/><path d="M1442.800 927l5.300 3.800l5.300-3.800" fill="none" stroke="#fff" stroke-width="1"/>
<circle cx="1499.600" cy="928.800" r="3.700" fill="none" stroke="#8a929c" stroke-width="1"/><path d="M1502.400 931.600l3.200 3.200" stroke="#8a929c" stroke-width="1.100" stroke-linecap="round"/>
<g fill="none" stroke="#8a929c" stroke-width="0.900"><rect x="1546.600" y="924.200" width="11.800" height="11.400" rx="2"/><path d="M1546.600 927.400h11.800"/><rect x="1550" y="929.600" width="2" height="3.400" stroke-width="0.700"/><rect x="1553.200" y="929.600" width="2" height="3.400" stroke-width="0.700"/></g>
<rect x="1473.300" y="949.600" width="55" height="2.200" rx="1.100" fill="#16202c"/>
<!-- 60_center.svgfrag -->
<path d="M772.4 262.9L814.1 239.3L808.1 257.9L822.1 257.9L822.1 267.9L808.1 267.9L814.1 286.5Z" fill="#78838e" stroke="#21364b" stroke-width="2.0" stroke-linejoin="miter"/>
<path d="M835.0 257.9L856.0 257.9L856.0 267.9L835.0 267.9Z" fill="#78838e" stroke="#21364b" stroke-width="2.0" stroke-linejoin="miter"/>
<path d="M869.3 257.9L889.8 257.9L889.8 267.9L869.3 267.9Z" fill="#78838e" stroke="#21364b" stroke-width="2.0" stroke-linejoin="miter"/>
<path d="M903.3 257.9L924.0 257.9L924.0 267.9L903.3 267.9Z" fill="#78838e" stroke="#21364b" stroke-width="2.0" stroke-linejoin="miter"/>
<path d="M978.1 237.5L985.7 245.1L967.6 263.2L985.7 281.3L978.1 288.9L960.0 270.8L941.9 288.9L934.3 281.3L952.4 263.2L934.3 245.1L941.9 237.5L960.0 255.6Z" fill="#d4584b" stroke="#21364b" stroke-width="2.0" stroke-linejoin="miter"/>
<path d="M996.0 257.9L1016.7 257.9L1016.7 267.9L996.0 267.9Z" fill="#78838e" stroke="#21364b" stroke-width="2.0" stroke-linejoin="miter"/>
<path d="M1030.2 257.9L1050.7 257.9L1050.7 267.9L1030.2 267.9Z" fill="#78838e" stroke="#21364b" stroke-width="2.0" stroke-linejoin="miter"/>
<path d="M1064.1 257.9L1085.0 257.9L1085.0 267.9L1064.1 267.9Z" fill="#78838e" stroke="#21364b" stroke-width="2.0" stroke-linejoin="miter"/>
<path d="M1147.6 262.9L1105.9 286.5L1111.9 267.9L1097.9 267.9L1097.9 257.9L1111.9 257.9L1105.9 239.3Z" fill="#78838e" stroke="#21364b" stroke-width="2.0" stroke-linejoin="miter"/>
<path d="M772.4 808.8L814.1 785.2L808.1 803.8L822.1 803.8L822.1 813.8L808.1 813.8L814.1 832.4Z" fill="#78838e" stroke="#21364b" stroke-width="2.0" stroke-linejoin="miter"/>
<path d="M835.0 803.8L856.0 803.8L856.0 813.8L835.0 813.8Z" fill="#78838e" stroke="#21364b" stroke-width="2.0" stroke-linejoin="miter"/>
<path d="M869.3 803.8L889.8 803.8L889.8 813.8L869.3 813.8Z" fill="#78838e" stroke="#21364b" stroke-width="2.0" stroke-linejoin="miter"/>
<path d="M903.3 803.8L924.0 803.8L924.0 813.8L903.3 813.8Z" fill="#78838e" stroke="#21364b" stroke-width="2.0" stroke-linejoin="miter"/>
<path d="M978.1 783.3L985.7 790.9L967.6 809.0L985.7 827.1L978.1 834.7L960.0 816.6L941.9 834.7L934.3 827.1L952.4 809.0L934.3 790.9L941.9 783.3L960.0 801.4Z" fill="#d4584b" stroke="#21364b" stroke-width="2.0" stroke-linejoin="miter"/>
<path d="M996.0 803.8L1016.7 803.8L1016.7 813.8L996.0 813.8Z" fill="#d4584b" stroke="#21364b" stroke-width="2.0" stroke-linejoin="miter"/>
<path d="M1030.2 803.8L1050.7 803.8L1050.7 813.8L1030.2 813.8Z" fill="#d4584b" stroke="#21364b" stroke-width="2.0" stroke-linejoin="miter"/>
<path d="M1064.1 803.8L1085.0 803.8L1085.0 813.8L1064.1 813.8Z" fill="#d4584b" stroke="#21364b" stroke-width="2.0" stroke-linejoin="miter"/>
<path d="M1147.6 808.8L1105.9 832.4L1111.9 813.8L1097.9 813.8L1097.9 803.8L1111.9 803.8L1105.9 785.2Z" fill="#78838e" stroke="#21364b" stroke-width="2.0" stroke-linejoin="miter"/>
<path d="M775.4 362.4L821.3 375.2L805.3 384.7L817.5 396.6L810.5 403.7L798.3 391.8L789.2 408.0Z" fill="#78838e" stroke="#21364b" stroke-width="2.0" stroke-linejoin="miter"/>
<path d="M862.0 404.6L869.6 412.2L851.5 430.3L869.6 448.4L862.0 456.0L843.9 437.9L825.8 456.0L818.2 448.4L836.3 430.3L818.2 412.2L825.8 404.6L843.9 422.7Z" fill="#d4584b" stroke="#21364b" stroke-width="2.0" stroke-linejoin="miter"/>
<path d="M878.9 457.0L889.2 467.1L882.4 473.9L872.2 463.8Z" fill="#78838e" stroke="#21364b" stroke-width="2.0" stroke-linejoin="miter"/>
<path d="M898.8 476.5L913.4 490.8L906.7 497.6L892.1 483.4Z" fill="#78838e" stroke="#21364b" stroke-width="2.0" stroke-linejoin="miter"/>
<path d="M1144.6 362.4L1130.8 408.0L1121.7 391.8L1109.5 403.7L1102.5 396.6L1114.7 384.7L1098.7 375.2Z" fill="#d4584b" stroke="#21364b" stroke-width="2.0" stroke-linejoin="miter"/>
<path d="M1094.3 404.6L1101.9 412.2L1083.8 430.3L1101.9 448.4L1094.3 456.0L1076.2 437.9L1058.1 456.0L1050.5 448.4L1068.6 430.3L1050.5 412.2L1058.1 404.6L1076.2 422.7Z" fill="#d4584b" stroke="#21364b" stroke-width="2.0" stroke-linejoin="miter"/>
<path d="M1047.8 463.8L1037.6 473.9L1030.8 467.1L1041.1 457.0Z" fill="#d4584b" stroke="#21364b" stroke-width="2.0" stroke-linejoin="miter"/>
<path d="M1027.9 483.4L1013.3 497.6L1006.6 490.8L1021.2 476.5Z" fill="#d4584b" stroke="#21364b" stroke-width="2.0" stroke-linejoin="miter"/>
<path d="M775.9 712.6L789.4 665.8L799.0 682.4L810.3 671.1L817.4 678.2L806.1 689.5L822.7 699.1Z" fill="#78838e" stroke="#21364b" stroke-width="2.0" stroke-linejoin="miter"/>
<path d="M818.9 663.4L834.2 648.1L840.9 654.8L825.6 670.1Z" fill="#78838e" stroke="#21364b" stroke-width="2.0" stroke-linejoin="miter"/>
<path d="M856.3 627.1L866.7 616.7L873.5 623.5L863.1 633.9Z" fill="#78838e" stroke="#21364b" stroke-width="2.0" stroke-linejoin="miter"/>
<path d="M875.8 607.2L883.2 599.8L890.6 607.2L883.2 614.6Z" fill="#78838e" stroke="#21364b" stroke-width="2.0" stroke-linejoin="miter"/>
<path d="M828.8 618.6L839.0 635.8L833.8 638.8L823.6 621.6Z" fill="#78838e" stroke="#21364b" stroke-width="2.0" stroke-linejoin="miter"/>
<path d="M854.2 652.2L872.0 660.8L869.4 666.0L851.6 657.4Z" fill="#78838e" stroke="#21364b" stroke-width="2.0" stroke-linejoin="miter"/>
<path d="M1144.0 712.6L1097.2 699.1L1113.8 689.5L1102.5 678.2L1109.6 671.1L1120.9 682.4L1130.5 665.8Z" fill="#d4584b" stroke="#21364b" stroke-width="2.0" stroke-linejoin="miter"/>
<path d="M1085.8 648.1L1101.1 663.4L1094.4 670.1L1079.1 654.8Z" fill="#d4584b" stroke="#21364b" stroke-width="2.0" stroke-linejoin="miter"/>
<path d="M1053.5 617.0L1063.9 627.4L1057.1 634.2L1046.7 623.8Z" fill="#d4584b" stroke="#21364b" stroke-width="2.0" stroke-linejoin="miter"/>
<path d="M1037.3 600.2L1044.7 607.6L1037.3 615.0L1029.9 607.6Z" fill="#d4584b" stroke="#21364b" stroke-width="2.0" stroke-linejoin="miter"/>
<path d="M1088.5 619.0L1082.4 637.0L1076.3 635.0L1082.4 617.0Z" fill="#d4584b" stroke="#21364b" stroke-width="2.0" stroke-linejoin="miter"/>
<path d="M1047.2 656.4L1063.5 646.5L1066.6 651.6L1050.3 661.5Z" fill="#d4584b" stroke="#21364b" stroke-width="2.0" stroke-linejoin="miter"/>
<path d="M960 486.400L1014.500 582.300L906.100 582.300Z" transform="translate(7.500 7)" fill="#bfccd9" stroke="#bfccd9" stroke-width="26" stroke-linejoin="round"/>
<path d="M960 486.400L1014.500 582.300L906.100 582.300Z" fill="#1b2633" stroke="#1b2633" stroke-width="26" stroke-linejoin="round"/>
<path d="M960 486.400L1014.500 582.300L906.100 582.300Z" fill="#d4584b" stroke="#d4584b" stroke-width="21" stroke-linejoin="round"/>
<path d="M960 488.800L1012.400 581.100L907.600 581.100Z" fill="#1b2633" stroke="#1b2633" stroke-width="11.400" stroke-linejoin="round"/>
<path d="M960 488.800L1012.400 581.100L907.600 581.100Z" fill="#f4b25a" stroke="#f4b25a" stroke-width="7" stroke-linejoin="round"/>
<path d="M952.800 516.200Q952.800 509 960 509Q967.200 509 967.200 516.200L963.400 550.400Q963 553.400 960 553.400Q957 553.400 956.600 550.400Z" fill="#d4584b" stroke="#1b2633" stroke-width="2"/>
<circle cx="960" cy="566.900" r="6.200" fill="#d4584b" stroke="#1b2633" stroke-width="2"/>
<!-- 90_tabs.svgfrag -->
<g clip-path="url(#cp124)">
<path d="M563.3 492.4V451.8Q563.3 440.8 574.3 440.8H728.0Q739.0 440.8 739.0 451.8V492.4Z" fill="#5b88b4" stroke="#24405b" stroke-width="2.2"/>
</g>
<rect x="80.1" y="44.2" width="673.4" height="448.2" rx="13" fill="none" stroke="#24405b" stroke-width="2.4"/>
<text x="581.0" y="478.5" font-size="32.6" fill="#fff" textLength="138.6" lengthAdjust="spacingAndGlyphs" stroke="#fff" stroke-width="0.8">Windows</text>
<g clip-path="url(#cp1211)">
<path d="M1725.0 484.8V444.0Q1725.0 433.0 1736.0 433.0H1815.2Q1826.2 433.0 1826.2 444.0V484.8Z" fill="#5b88b4" stroke="#24405b" stroke-width="2.2"/>
</g>
<rect x="1167.0" y="44.0" width="673.4" height="440.8" rx="13" fill="none" stroke="#24405b" stroke-width="2.4"/>
<text x="1741.5" y="470.8" font-size="32.6" fill="#fff" textLength="67.3" lengthAdjust="spacingAndGlyphs" stroke="#fff" stroke-width="0.8">Web</text>
<g clip-path="url(#cp651)">
<path d="M597.0 1004.3V964.2Q597.0 953.2 608.0 953.2H727.8Q738.8 953.2 738.8 964.2V1004.3Z" fill="#5b88b4" stroke="#24405b" stroke-width="2.2"/>
</g>
<rect x="79.8" y="572.1" width="673.6" height="432.2" rx="13" fill="none" stroke="#24405b" stroke-width="2.4"/>
<text x="636.0" y="991.1" font-size="32.6" fill="#fff" textLength="62.2" lengthAdjust="spacingAndGlyphs" stroke="#fff" stroke-width="0.8">Mac</text>
<g clip-path="url(#cp1739)">
<path d="M1685.0 1004.7V964.2Q1685.0 953.2 1696.0 953.2H1815.4Q1826.4 953.2 1826.4 964.2V1004.7Z" fill="#5b88b4" stroke="#24405b" stroke-width="2.2"/>
</g>
<rect x="1167.0" y="572.2" width="673.4" height="432.5" rx="13" fill="none" stroke="#24405b" stroke-width="2.4"/>
<text x="1703.5" y="991.3" font-size="32.6" fill="#fff" textLength="103.4" lengthAdjust="spacingAndGlyphs" stroke="#fff" stroke-width="0.8">Mobile</text>
</svg>
</body></html>
